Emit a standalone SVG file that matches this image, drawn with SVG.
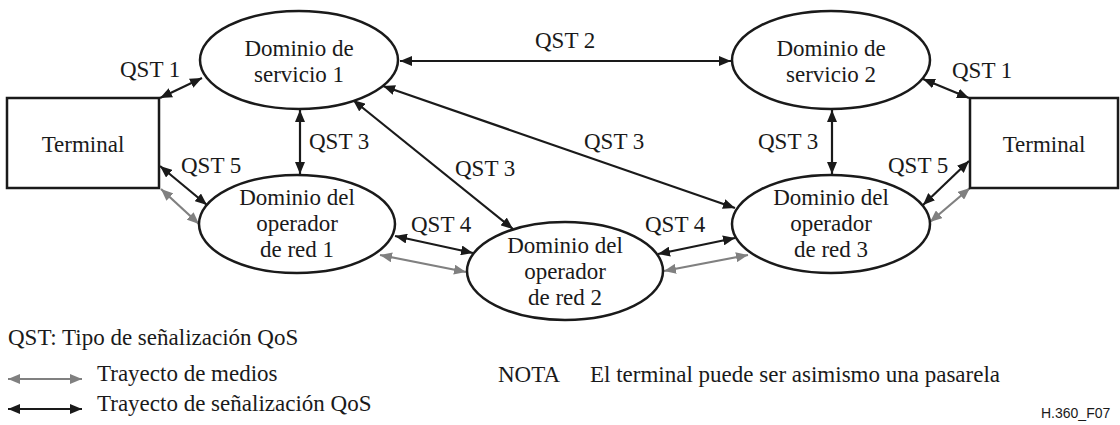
<svg xmlns="http://www.w3.org/2000/svg" width="1120" height="425" viewBox="0 0 1120 425">
<style>
text{font-family:"Liberation Serif","Times New Roman",serif;font-size:23px;fill:#1a1a1a}
.c{text-anchor:middle}
.shape{fill:#fff;stroke:#1a1a1a;stroke-width:2.5}
.sig{stroke:#1a1a1a;stroke-width:2.2;fill:none;marker-start:url(#ab);marker-end:url(#ab)}
.med{stroke:#808080;stroke-width:2.2;fill:none;marker-start:url(#ag);marker-end:url(#ag)}
.ref{font-family:"Liberation Sans",Arial,sans-serif;font-size:14px}
</style>
<defs>
<marker id="ab" viewBox="0 0 12 10" refX="12" refY="5" markerWidth="12" markerHeight="10" markerUnits="userSpaceOnUse" orient="auto-start-reverse"><path d="M0,0 L12,5 L0,10 Z" fill="#1a1a1a"/></marker>
<marker id="ag" viewBox="0 0 12 10" refX="12" refY="5" markerWidth="12" markerHeight="10" markerUnits="userSpaceOnUse" orient="auto-start-reverse"><path d="M0,0 L12,5 L0,10 Z" fill="#808080"/></marker>
</defs>
<g id="connectors">
<line class="sig" x1="160" y1="98" x2="202" y2="78"/>
<line class="sig" x1="400" y1="61" x2="731" y2="61"/>
<line class="sig" x1="923" y1="79" x2="969" y2="98"/>
<line class="sig" x1="300" y1="110" x2="300" y2="174"/>
<line class="sig" x1="832" y1="110" x2="832" y2="174"/>
<line class="sig" x1="353" y1="100" x2="513" y2="229"/>
<line class="sig" x1="383" y1="86" x2="735" y2="208"/>
<line class="sig" x1="160" y1="166" x2="207" y2="205"/>
<line class="med" x1="161" y1="189" x2="199" y2="224"/>
<line class="sig" x1="395" y1="236" x2="473" y2="253"/>
<line class="med" x1="380" y1="255" x2="466" y2="272"/>
<line class="sig" x1="658" y1="254" x2="735" y2="238"/>
<line class="med" x1="664" y1="271" x2="748" y2="255"/>
<line class="sig" x1="923" y1="205" x2="969" y2="161"/>
<line class="med" x1="930" y1="222" x2="970" y2="188"/>
</g>
<g id="terminal-left">
<rect class="shape" x="7" y="98" width="152" height="90"/>
<text class="c" x="83" y="152">Terminal</text>
</g>
<g id="terminal-right">
<rect class="shape" x="970" y="98" width="148" height="90"/>
<text class="c" x="1044" y="152">Terminal</text>
</g>
<g id="servicio1">
<ellipse class="shape" cx="299" cy="60" rx="99" ry="49"/>
<text class="c" x="299" y="56">Dominio de</text>
<text class="c" x="299" y="82">servicio 1</text>
</g>
<g id="servicio2">
<ellipse class="shape" cx="831" cy="60" rx="99" ry="49"/>
<text class="c" x="831" y="56">Dominio de</text>
<text class="c" x="831" y="82">servicio 2</text>
</g>
<g id="red1">
<ellipse class="shape" cx="297" cy="224" rx="98" ry="49"/>
<text class="c" x="297" y="205">Dominio del</text>
<text class="c" x="297" y="231">operador</text>
<text class="c" x="297" y="257">de red 1</text>
</g>
<g id="red2">
<ellipse class="shape" cx="565" cy="271" rx="98" ry="49"/>
<text class="c" x="565" y="253">Dominio del</text>
<text class="c" x="565" y="279">operador</text>
<text class="c" x="565" y="305">de red 2</text>
</g>
<g id="red3">
<ellipse class="shape" cx="831" cy="224" rx="99" ry="49"/>
<text class="c" x="831" y="205">Dominio del</text>
<text class="c" x="831" y="231">operador</text>
<text class="c" x="831" y="257">de red 3</text>
</g>
<g id="labels">
<text x="120" y="77">QST 1</text>
<text x="535" y="48">QST 2</text>
<text x="952" y="78">QST 1</text>
<text x="309" y="149">QST 3</text>
<text x="455" y="176">QST 3</text>
<text x="584" y="149">QST 3</text>
<text x="758" y="149">QST 3</text>
<text x="181" y="173">QST 5</text>
<text x="888" y="173">QST 5</text>
<text x="411" y="232">QST 4</text>
<text x="645" y="232">QST 4</text>
</g>
<g id="legend">
<text x="8" y="345">QST: Tipo de señalización QoS</text>
<line class="med" x1="8" y1="379" x2="82" y2="379"/>
<text x="97" y="381">Trayecto de medios</text>
<line class="sig" x1="8" y1="409" x2="82" y2="409"/>
<text x="97" y="411">Trayecto de señalización QoS</text>
<text x="498" y="382">NOTA</text>
<text x="590" y="382">El terminal puede ser asimismo una pasarela</text>
<text class="ref" x="1041" y="418">H.360_F07</text>
</g>
</svg>
